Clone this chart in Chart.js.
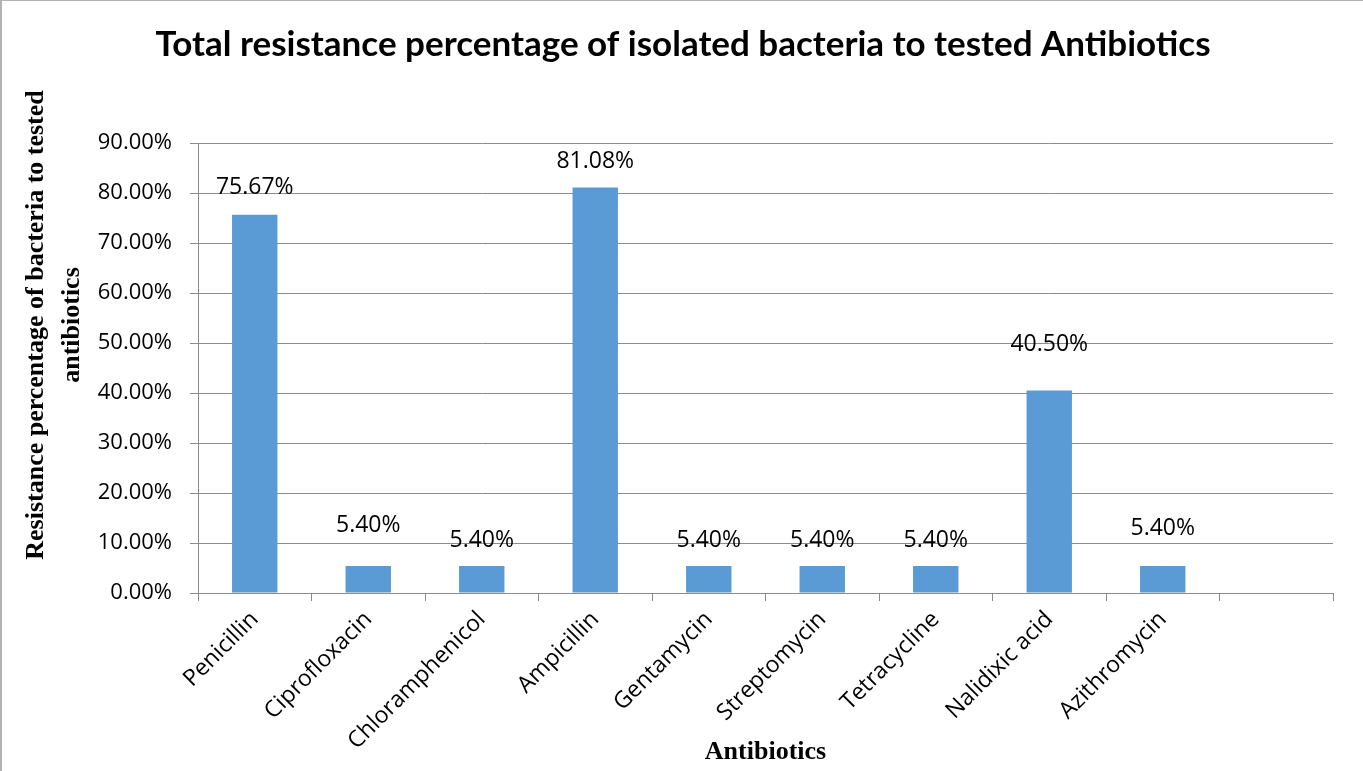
<!DOCTYPE html>
<html>
<head>
<meta charset="utf-8">
<title>Total resistance percentage of isolated bacteria to tested Antibiotics</title>
<script src="https://cdn.jsdelivr.net/npm/chart.js@4.4.1/dist/chart.umd.min.js"></script>
<style>
  html, body { margin: 0; padding: 0; background: #ffffff; }
  #wrap { position: relative; width: 1363px; height: 771px; overflow: hidden; }
  #frame {
    position: absolute; left: 0; top: 0; width: 1363px; height: 771px;
    box-sizing: border-box; border-left: 2px solid #b3b3b3; border-top: 1px solid #b3b3b3;
    pointer-events: none;
  }
  canvas { display: block; }
</style>
</head>
<body>
<div id="wrap">
  <canvas id="chart" width="1363" height="771"></canvas>
  <div id="frame"></div>
</div>
<script>
// Antibiotics tested (the last slot on the axis is left empty)
const antibiotics = ['Penicillin', 'Ciprofloxacin', 'Chloramphenicol', 'Ampicillin', 'Gentamycin',
                     'Streptomycin', 'Tetracycline', 'Nalidixic acid', 'Azithromycin', ''];
// Resistance percentage for each antibiotic
const resistancePct = [75.67, 5.40, 5.40, 81.08, 5.40, 5.40, 5.40, 40.50, 5.40, null];
// Y axis tick values (percent)
const yTickValues = [0, 10, 20, 30, 40, 50, 60, 70, 80, 90];

const chartTitle = 'Total resistance percentage of isolated bacteria to tested Antibiotics';
const yTitleLines = ['Resistance percentage of bacteria to tested', 'antibiotics'];
const xTitle = 'Antibiotics';

// How far (px) each value label sits above its bar top
const labelLift = [27, 41, 26, 26, 26, 26, 26, 46, 38, 0];

const BAR_BLUE = '#5b9bd5';
const GRID_GREY = '#8c8c8c';
const SANS = "'Open Sans', 'Noto Sans', sans-serif";
const SERIF = "'Liberation Serif', 'DejaVu Serif', serif";

const pct = v => v.toFixed(2) + '%';

// Main title, value labels above bars and the two axis titles
const annotate = {
  id: 'annotate',
  afterDatasetsDraw(chart) {
    const ctx = chart.ctx;
    const meta = chart.getDatasetMeta(0);
    ctx.save();
    ctx.fillStyle = '#000';
    ctx.font = '23px ' + SANS;
    ctx.textAlign = 'center';
    ctx.textBaseline = 'middle';
    meta.data.forEach((bar, i) => {
      const v = resistancePct[i];
      if (v === null || v === undefined) return;
      ctx.fillText(pct(v), bar.x, bar.y - labelLift[i]);
    });
    ctx.restore();
  },
  afterDraw(chart) {
    const ctx = chart.ctx;
    const area = chart.chartArea;
    ctx.save();
    ctx.fillStyle = '#000';
    ctx.textAlign = 'center';
    ctx.textBaseline = 'middle';
    // main title
    ctx.font = "bold 35px Lato, 'Open Sans', sans-serif";
    ctx.fillText(chartTitle, 683, 45);
    ctx.font = 'bold 26px ' + SERIF;
    // x axis title
    ctx.fillText(xTitle, (area.left + area.right) / 2, 752);
    // y axis title, rotated, two lines
    ctx.translate(54, 325);
    ctx.rotate(-Math.PI / 2);
    const gap = 36;
    yTitleLines.forEach((line, k) => {
      ctx.fillText(line, 0, (k - (yTitleLines.length - 1) / 2) * gap);
    });
    ctx.restore();
  }
};

new Chart(document.getElementById('chart'), {
  type: 'bar',
  data: {
    labels: antibiotics,
    datasets: [{
      data: resistancePct,
      backgroundColor: BAR_BLUE,
      borderWidth: 0,
      categoryPercentage: 0.8,
      barPercentage: 0.5
    }]
  },
  options: {
    responsive: false,
    devicePixelRatio: 1,
    animation: false,
    layout: { padding: { left: 0, right: 30, top: 143, bottom: 0 } },
    plugins: {
      legend: { display: false },
      tooltip: { enabled: false },
      title: { display: false }
    },
    scales: {
      x: {
        grid: {
          display: true,
          drawOnChartArea: false,
          drawTicks: true,
          tickLength: 8,
          color: GRID_GREY,
          offset: true
        },
        border: { display: true, color: GRID_GREY, width: 1 },
        ticks: {
          autoSkip: false,
          maxRotation: 45,
          minRotation: 45,
          color: '#000',
          padding: 5,
          font: { family: SANS, size: 23 }
        },
        afterFit(scale) { scale.height = 178; }
      },
      y: {
        min: 0,
        max: 90,
        afterBuildTicks(scale) { scale.ticks = yTickValues.map(v => ({ value: v })); },
        grid: {
          color: GRID_GREY,
          drawTicks: true,
          tickLength: 8
        },
        border: { display: true, color: GRID_GREY, width: 1 },
        ticks: {
          color: '#000',
          padding: 18,
          font: { family: SANS, size: 22 },
          callback: v => pct(v)
        },
        afterFit(scale) { scale.width = 198; }
      }
    }
  },
  plugins: [annotate]
});
</script>
</body>
</html>
